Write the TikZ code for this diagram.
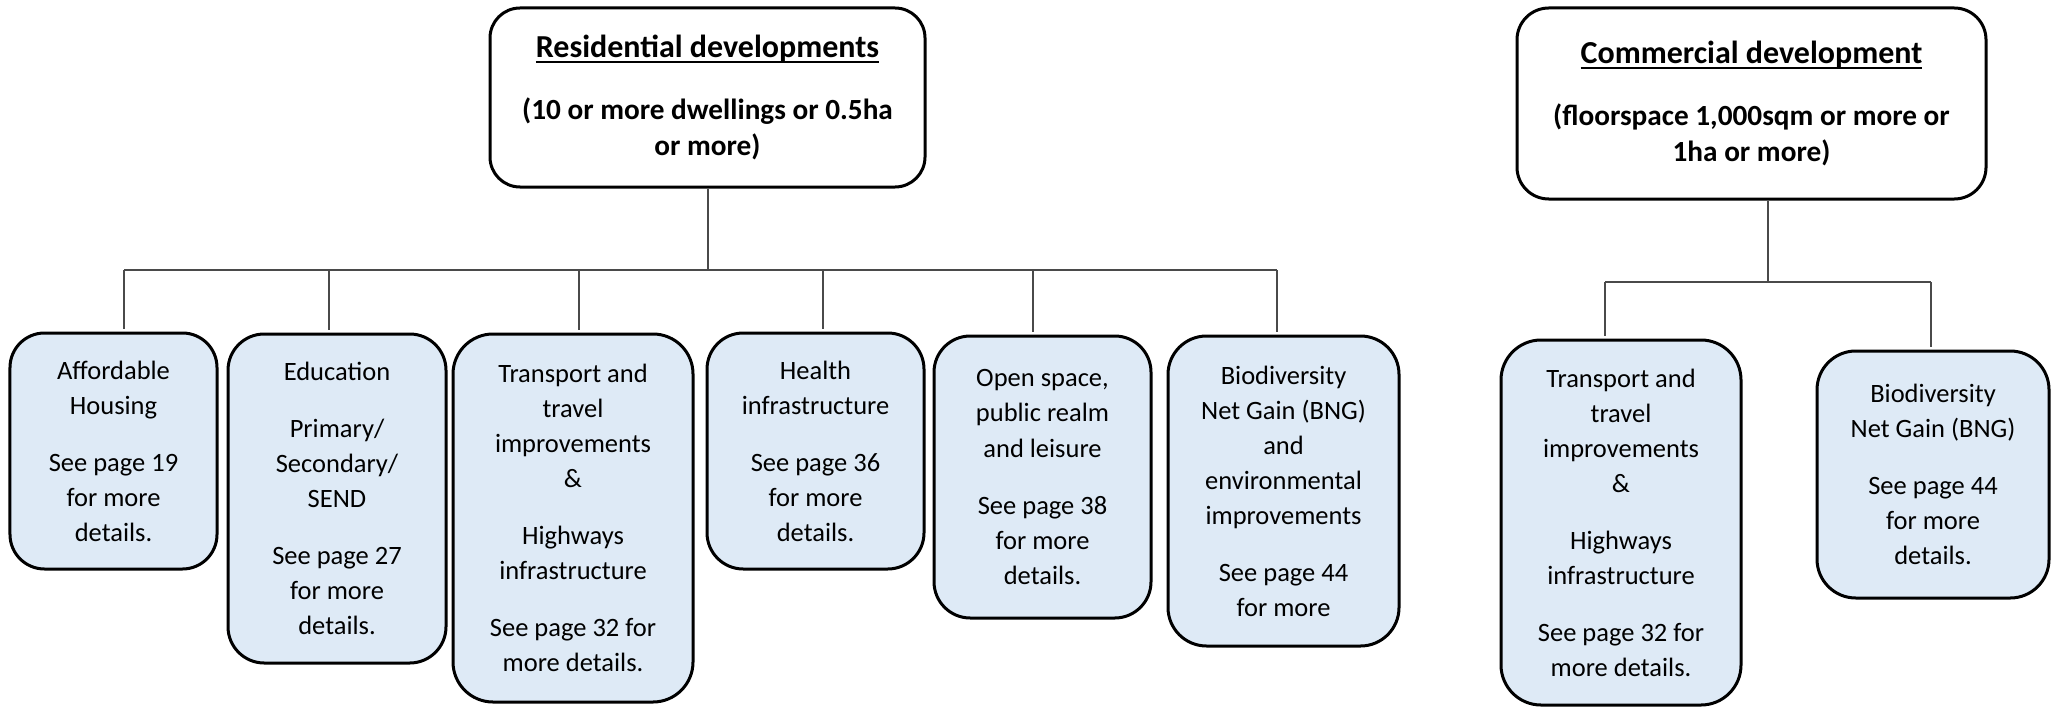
\documentclass[tikz,border=0pt]{standalone}
\usepackage{fontspec}
\setmainfont{Carlito}
\definecolor{cardblue}{HTML}{DEEAF6}
\definecolor{linkgray}{HTML}{4A4A4A}
\newcommand{\myul}[1]{\setbox0\hbox{#1}\rlap{\rule[-2.2pt]{\wd0}{0.9pt}}\box0}
\newcommand{\bodyfont}{\fontsize{10.6pt}{14pt}\selectfont}
\newcommand{\headfont}{\bfseries\fontsize{11.7pt}{14.4pt}\selectfont}
\newcommand{\titlefont}{\fontsize{12.8pt}{14.4pt}\selectfont}
\newcommand{\pg}{\\[8.8pt]}
\begin{document}
\begin{tikzpicture}[x=0.4pt,y=-0.4pt,
  card/.style={draw=black, line width=1.2pt, fill=cardblue, align=center, inner sep=0pt, font=\bodyfont},
  headbox/.style={draw=black, line width=1.2pt, fill=white, align=center, inner sep=0pt, font=\headfont},
  link/.style={draw=linkgray, line width=0.75pt},
  drop/.style={link, shorten >=1.2pt}]
\useasboundingbox (0,0) rectangle (2057,706);

% headers
\node[headbox, minimum width=174pt, minimum height=71.6pt, rounded corners=12pt] (rh) at (707.5,97.5)
  {{\titlefont\myul{Residential developments}}\\[10.4pt](10 or more dwellings or 0.5ha\\or more)};
\node[headbox, minimum width=187.6pt, minimum height=76.4pt, rounded corners=12.7pt] (ch) at (1751.5,103.5)
  {{\titlefont\myul{Commercial development}}\\[10.4pt](floorspace 1,000sqm or more or\\1ha or more)};

% residential cards
\node[card, minimum width=82.8pt, minimum height=94.4pt, rounded corners=13.8pt] (b1) at (113.5,451)
  {Affordable\\Housing\pg See page 19\\for more\\details.};
\node[card, minimum width=87.2pt, minimum height=131.6pt, rounded corners=14.5pt] (b2) at (337,498.5)
  {Education\pg Primary/\\Secondary/\\SEND\pg See page 27\\for more\\details.};
\node[card, minimum width=96pt, minimum height=147.2pt, rounded corners=16pt] (b3) at (573,518)
  {Transport and\\travel\\improvements\\\&\pg Highways\\infrastructure\pg See page 32 for\\more details.};
\node[card, minimum width=86.8pt, minimum height=94.4pt, rounded corners=14.5pt] (b4) at (815.5,451)
  {Health\\infrastructure\pg See page 36\\for more\\details.};
\node[card, minimum width=86.8pt, minimum height=112.8pt, rounded corners=14.5pt] (b5) at (1042.5,477)
  {Open space,\\public realm\\and leisure\pg See page 38\\for more\\details.};
\node[card, minimum width=92.4pt, minimum height=124pt, rounded corners=15.4pt] (b6) at (1283.5,491)
  {Biodiversity\\Net Gain (BNG)\\and\\environmental\\improvements\pg See page 44\\for more};

% commercial cards
\node[card, minimum width=96pt, minimum height=146pt, rounded corners=16pt] (c1) at (1621,522.5)
  {Transport and\\travel\\improvements\\\&\pg Highways\\infrastructure\pg See page 32 for\\more details.};
\node[card, minimum width=92.8pt, minimum height=98.8pt, rounded corners=15.5pt] (c2) at (1933,474.5)
  {Biodiversity\\Net Gain (BNG)\pg See page 44\\for more\\details.};

% residential connectors
\coordinate (r1) at (124,270);
\coordinate (r2) at (329,270);
\coordinate (r3) at (579,270);
\coordinate (r4) at (823,270);
\coordinate (r5) at (1033,270);
\coordinate (r6) at (1277,270);
\coordinate (rm) at (708,270);
\draw[link] (rm |- rh.south) -- (rm);
\draw[link] (r1) -- (r6);
\draw[drop] (r1) -- (r1 |- b1.north);
\draw[drop] (r2) -- (r2 |- b2.north);
\draw[drop] (r3) -- (r3 |- b3.north);
\draw[drop] (r4) -- (r4 |- b4.north);
\draw[drop] (r5) -- (r5 |- b5.north);
\draw[drop] (r6) -- (r6 |- b6.north);

% commercial connectors
\coordinate (cm) at (1768,282);
\coordinate (cl) at (1605,282);
\coordinate (cr) at (1931,282);
\draw[link] (cm |- ch.south) -- (cm);
\draw[link] (cl) -- (cr);
\draw[drop] (cl) -- (cl |- c1.north);
\draw[drop] (cr) -- (cr |- c2.north);
\end{tikzpicture}
\end{document}
